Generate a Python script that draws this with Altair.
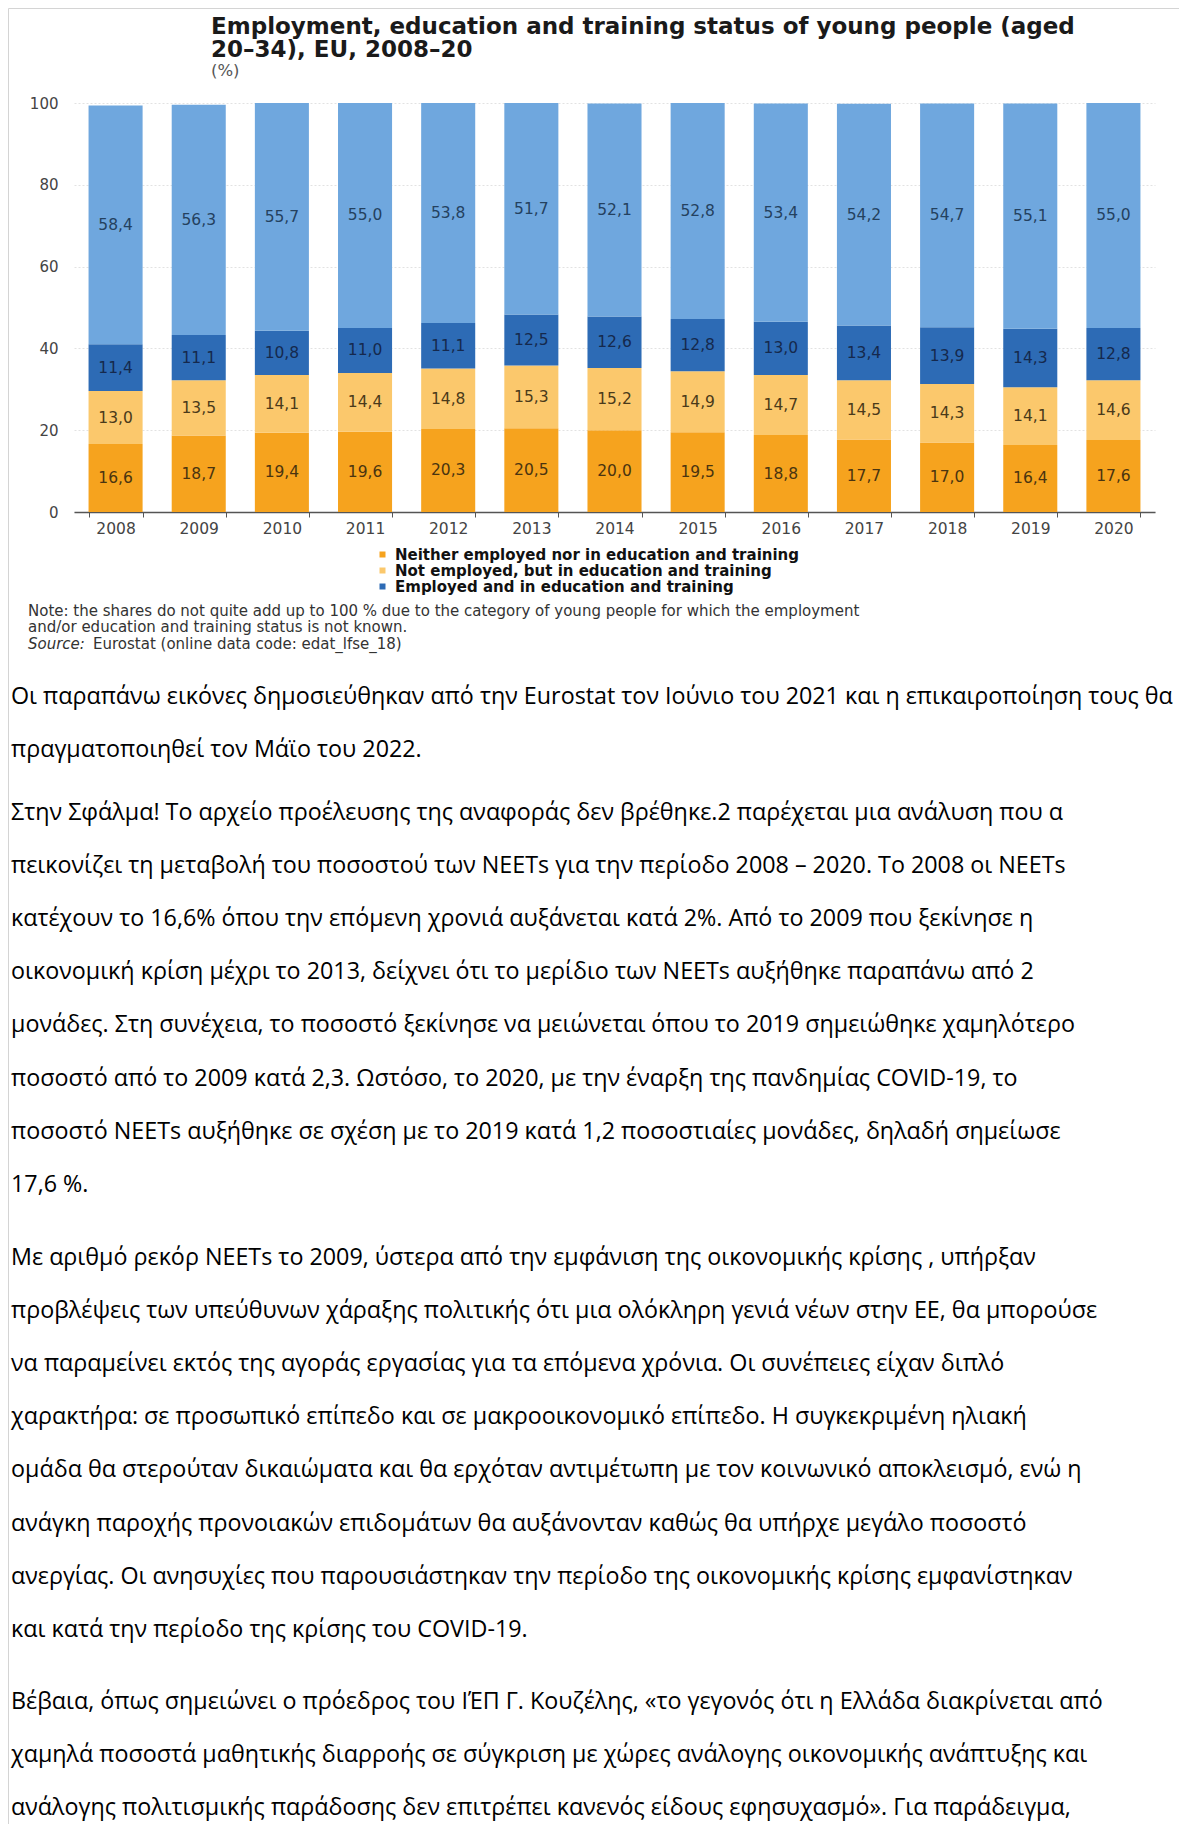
import altair as alt
import pandas as pd

# ---------------- data ----------------
years = [str(y) for y in range(2008, 2021)]
neet = [16.6, 18.7, 19.4, 19.6, 20.3, 20.5, 20.0, 19.5, 18.8, 17.7, 17.0, 16.4, 17.6]
not_emp_edu = [13.0, 13.5, 14.1, 14.4, 14.8, 15.3, 15.2, 14.9, 14.7, 14.5, 14.3, 14.1, 14.6]
emp_edu = [11.4, 11.1, 10.8, 11.0, 11.1, 12.5, 12.6, 12.8, 13.0, 13.4, 13.9, 14.3, 12.8]
emp_not_edu = [58.4, 56.3, 55.7, 55.0, 53.8, 51.7, 52.1, 52.8, 53.4, 54.2, 54.7, 55.1, 55.0]

series_names = [
    "Neither employed nor in education and training",
    "Not employed, but in education and training",
    "Employed and in education and training",
    "Employed, not in education and training",
]
bar_colors = ["#F6A31E", "#FBC86C", "#2D6BB5", "#6FA7DE"]
label_colors = ["#4a3410", "#4a3a1a", "#15294d", "#24415f"]

title_lines = ["Employment, education and training status of young people (aged",
               "20\u201334), EU, 2008\u201320"]
unit_text = "(%)"
note_lines = ["Note: the shares do not quite add up to 100 % due to the category of young people for which the employment",
              "and/or education and training status is not known."]
source_label = "Source:"
source_text = "Eurostat (online data code: edat_lfse_18)"

para1 = [
    "Οι παραπάνω εικόνες δημοσιεύθηκαν από την Eurostat τον Ιούνιο του 2021 και η επικαιροποίηση τους θα",
    "πραγματοποιηθεί τον Μάϊο του 2022.",
]
para2 = [
    "Στην Σφάλμα! Το αρχείο προέλευσης της αναφοράς δεν βρέθηκε.2 παρέχεται μια ανάλυση που α",
    "πεικονίζει τη μεταβολή του ποσοστού των NEETs για την περίοδο  2008 – 2020. Το 2008 οι NEETs",
    "κατέχουν το 16,6% όπου την επόμενη χρονιά αυξάνεται κατά 2%. Από το 2009 που ξεκίνησε η",
    "οικονομική κρίση μέχρι το 2013, δείχνει ότι το μερίδιο των NEETs αυξήθηκε παραπάνω από 2",
    "μονάδες. Στη συνέχεια, το ποσοστό ξεκίνησε να μειώνεται όπου το 2019  σημειώθηκε χαμηλότερο",
    "ποσοστό από το 2009 κατά 2,3. Ωστόσο, το 2020, με την έναρξη της πανδημίας COVID-19, το",
    "ποσοστό NEETs αυξήθηκε σε σχέση με το 2019 κατά 1,2 ποσοστιαίες μονάδες, δηλαδή σημείωσε",
    "17,6 %.",
]
para3 = [
    "Με αριθμό ρεκόρ NEETs το 2009, ύστερα από την εμφάνιση της οικονομικής κρίσης , υπήρξαν",
    "προβλέψεις των υπεύθυνων χάραξης πολιτικής ότι μια ολόκληρη γενιά νέων στην ΕΕ, θα μπορούσε",
    "να παραμείνει εκτός της αγοράς εργασίας για τα επόμενα χρόνια. Οι συνέπειες είχαν διπλό",
    "χαρακτήρα: σε προσωπικό επίπεδο και σε μακροοικονομικό επίπεδο. Η συγκεκριμένη ηλιακή",
    "ομάδα θα στερούταν δικαιώματα και θα ερχόταν αντιμέτωπη με τον κοινωνικό αποκλεισμό, ενώ η",
    "ανάγκη παροχής προνοιακών επιδομάτων θα αυξάνονταν καθώς θα υπήρχε μεγάλο ποσοστό",
    "ανεργίας. Οι ανησυχίες που παρουσιάστηκαν την περίοδο της οικονομικής κρίσης εμφανίστηκαν",
    "και κατά την περίοδο της κρίσης του COVID-19.",
]
para4 = [
    "Βέβαια, όπως σημειώνει ο πρόεδρος του ΙΈΠ Γ. Κουζέλης, «το γεγονός ότι η Ελλάδα διακρίνεται από",
    "χαμηλά ποσοστά μαθητικής διαρροής σε σύγκριση με χώρες ανάλογης οικονομικής ανάπτυξης και",
    "ανάλογης πολιτισμικής παράδοσης δεν επιτρέπει κανενός είδους εφησυχασμό». Για παράδειγμα,",
]

# ---------------- table ----------------
rows = []
all_series = [neet, not_emp_edu, emp_edu, emp_not_edu]
for i, yr in enumerate(years):
    cum = 0.0
    for k, (name, vals) in enumerate(zip(series_names, all_series)):
        v = vals[i]
        rows.append({"year": yr, "series": name, "value": v, "order": k,
                     "mid": cum + v / 2, "label": f"{v:.1f}".replace(".", ",")})
        cum += v
df = pd.DataFrame(rows)

FONT = "DejaVu Sans"
W, H = 1081, 409

x_scale = alt.Scale(paddingInner=0.35, paddingOuter=0.175)
x_axis = alt.Axis(labelAngle=0, tickBand="extent", domainColor="#555555",
                  domainWidth=1.5, tickColor="#555555", tickSize=5,
                  labelColor="#444444", labelFont=FONT, labelFontSize=15.5,
                  labelPadding=4, grid=False)
y_scale = alt.Scale(domain=[0, 100], nice=False)
y_axis = alt.Axis(values=[0, 20, 40, 60, 80, 100], domain=False, ticks=False,
                  tickSize=0, labelPadding=16, grid=True, gridColor="#e2e2e2",
                  gridDash=[2, 2], labelColor="#444444", labelFont=FONT,
                  labelFontSize=15)

bars = alt.Chart(df).mark_bar().encode(
    x=alt.X("year:N", title=None, scale=x_scale, axis=x_axis),
    y=alt.Y("value:Q", stack="zero", title=None, scale=y_scale, axis=y_axis),
    color=alt.Color("series:N",
                    scale=alt.Scale(domain=series_names, range=bar_colors),
                    legend=alt.Legend(title=None, orient="none", legendX=301, legendY=444,
                                      direction="vertical", values=series_names[:3],
                                      symbolType="square", symbolSize=36,
                                      symbolStrokeWidth=0, labelFont=FONT,
                                      labelFontWeight="bold", labelFontSize=15,
                                      labelColor="#111111", labelOffset=5, rowPadding=-1,
                                      padding=0, labelLimit=0)),
    order=alt.Order("order:Q"),
)

labels = alt.Chart(df).mark_text(font=FONT, fontSize=15.5, baseline="middle").encode(
    x=alt.X("year:N", title=None, scale=x_scale, axis=x_axis),
    y=alt.Y("mid:Q", title=None, scale=y_scale, axis=y_axis),
    text="label:N",
    color=alt.Color("series:N", scale=alt.Scale(domain=series_names, range=label_colors),
                    legend=None),
)

one = alt.Data(values=[{}])


def txt(text, x, y, size, weight="normal", style="normal", color="#111111",
        font=FONT, baseline="middle", line_height=None):
    kw = dict(text=text, font=font, fontSize=size, fontWeight=weight, fontStyle=style,
              color=color, align="left", baseline=baseline)
    if line_height is not None:
        kw["lineHeight"] = line_height
    return alt.Chart(one).mark_text(**kw).encode(x=alt.value(x), y=alt.value(y))


# plot origin is at page (74, 103)
title1 = txt(title_lines[0], 137, -76, 23, weight="bold", color="#1a1a1a")
title2 = txt(title_lines[1], 137, -53, 23, weight="bold", color="#1a1a1a")
unit = txt(unit_text, 137, -32, 16.5, color="#555555")

note = txt(note_lines, -46, 513, 15, color="#333333", baseline="alphabetic", line_height=16)
src1 = txt(source_label, -46, 541, 15, style="italic", color="#333333")
src2 = txt(source_text, 19, 541, 15, color="#333333")

GFONT = "Open Sans"
GS = 23.3
LH = 53.2
p1 = txt(para1, -63, 600.5, GS, font=GFONT, color="#000000", baseline="alphabetic", line_height=LH)
p2 = txt(para2, -63, 716.5, GS, font=GFONT, color="#000000", baseline="alphabetic", line_height=LH)
p3 = txt(para3, -63, 1161.5, GS, font=GFONT, color="#000000", baseline="alphabetic", line_height=LH)
p4 = txt(para4, -63, 1605.5, GS, font=GFONT, color="#000000", baseline="alphabetic", line_height=LH)

border_top = alt.Chart(one).mark_rule(color="#d4d4d4", strokeWidth=1).encode(
    x=alt.value(-65.5), x2=alt.value(1105), y=alt.value(-94.5))
border_left = alt.Chart(one).mark_rule(color="#d4d4d4", strokeWidth=1).encode(
    x=alt.value(-65.5), y=alt.value(-94.5), y2=alt.value(1721))

chart = alt.layer(
    bars, labels, title1, title2, unit, note, src1, src2, p1, p2, p3, p4,
    border_top, border_left,
).resolve_scale(color="independent").properties(
    width=W, height=H,
    autosize=alt.AutoSizeParams(type="none"),
    padding={"left": 66, "top": 95, "right": 24, "bottom": 1312},
    background="white",
).configure_view(stroke=None)

chart.save("out.html", embed_options={"renderer": "svg", "actions": False})
